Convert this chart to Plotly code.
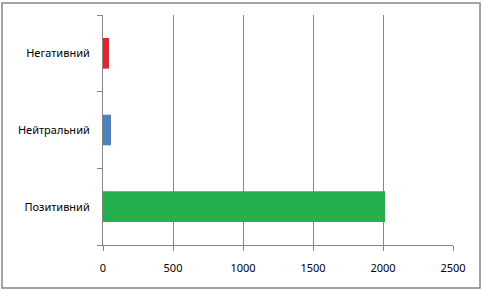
import plotly.graph_objects as go

categories = ["Позитивний", "Нейтральний", "Негативний"]
values = [2015, 57, 43]
colors = ["#25B04F", "#4F81BD", "#E3262E"]
x_ticks = [0, 500, 1000, 1500, 2000, 2500]

W, H = 483, 291
ml, mr, mt, mb = 103, 30, 15, 46
pw, ph = W - ml - mr, H - mt - mb

fig = go.Figure()
fig.add_trace(go.Bar(
    x=values, y=list(range(len(categories))), orientation="h",
    marker=dict(color=colors, line=dict(width=0)), width=0.4,
    showlegend=False,
))

grid = "#868686"
fig.update_layout(
    width=W, height=H,
    margin=dict(l=ml, r=mr, t=mt, b=mb),
    paper_bgcolor="white", plot_bgcolor="white",
    font=dict(family="Noto Sans, DejaVu Sans, sans-serif", size=11, color="#000000"),
    xaxis=dict(
        range=[0, 2500], tickvals=x_ticks, ticktext=[str(v) for v in x_ticks],
        showgrid=True, gridcolor=grid, gridwidth=1,
        showline=True, linecolor=grid, linewidth=1,
        ticks="outside", ticklen=5, tickcolor=grid,
        ticklabelstandoff=8,
        zeroline=False, fixedrange=True,
    ),
    yaxis=dict(
        range=[-0.5, 2.5], tickvals=[0, 1, 2], ticktext=categories,
        showgrid=False, showline=True, linecolor=grid, linewidth=1,
        ticks="", ticklabelstandoff=10,
        minor=dict(ticks="outside", tick0=0.5, dtick=1, ticklen=5, tickcolor=grid, showgrid=False),
        zeroline=False, fixedrange=True,
    ),
)

# outer chart border
fig.add_shape(
    type="rect", xref="paper", yref="paper",
    x0=(2 - ml) / pw, x1=(480 - ml) / pw,
    y0=(H - mb - 288) / ph, y1=(H - mb - 3) / ph,
    line=dict(color="#868686", width=1.5), fillcolor="rgba(0,0,0,0)", layer="below",
)

fig.write_html("out.html")
